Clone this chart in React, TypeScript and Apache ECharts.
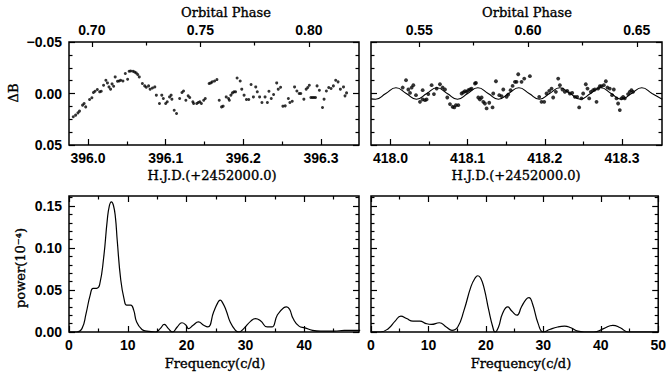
import React, { useEffect, useRef } from 'react';
import * as echarts from 'echarts';

// ---------- data ----------
// Top-left light curve: [HJD-2452000, ΔB]
const lightCurveA: number[][] = [
  [395.981,0.0226],[395.984,0.021],[395.987,0.0188],[395.989,0.0171],[395.993,0.0113],[395.995,0.0097],[395.997,0.013],[396.002,0.0058],[396.005,0.0042],[396.007,-0.001],
  [396.009,-0.0022],[396.012,-0.0039],[396.015,-0.0016],[396.017,-0.0022],[396.020,-0.008],[396.023,-0.0129],[396.025,-0.0103],[396.027,-0.0064],[396.029,-0.0042],[396.031,-0.0093],
  [396.033,-0.0071],[396.035,-0.0161],[396.038,-0.0119],[396.040,-0.0122],[396.042,-0.0129],[396.045,-0.0122],[396.048,-0.0194],[396.051,-0.0138],[396.053,-0.0216],[396.055,-0.0219],
  [396.058,-0.0216],[396.060,-0.0209],[396.062,-0.02],[396.064,-0.0184],[396.066,-0.0161],[396.070,-0.0097],[396.073,-0.0074],[396.075,-0.0061],[396.078,-0.0074],[396.080,-0.0042],
  [396.083,-0.0054],[396.086,-0.0064],[396.088,0.0016],[396.092,0.0097],[396.095,0.0016],[396.097,0.0048],[396.100,0.0097],[396.102,0.0081],[396.105,0.0033],[396.107,0.0016],
  [396.108,0.0055],[396.111,0.0162],[396.114,0.0194],[396.118,0.0048],[396.121,-0.001],[396.123,-0.0025],[396.126,0.0065],[396.129,0.0023],[396.131,0.0039],[396.135,0.0081],
  [396.136,0.0097],[396.140,0.0097],[396.142,0.0087],[396.144,0.0081],[396.146,0.0097],[396.149,0.0065],[396.151,0.0048],[396.156,-0.0097],[396.158,-0.0103],[396.160,-0.0113],
  [396.163,-0.0122],[396.166,-0.0135],[396.169,0.0065],[396.172,0.013],[396.174,0.0123],[396.178,0.0033],[396.181,0.0048],[396.182,0.0065],[396.184,0.0016],[396.186,-0.0006],
  [396.188,-0.0016],[396.190,-0.0016],[396.192,-0.0151],[396.196,-0.0122],[396.198,-0.0042],[396.201,0.0016],[396.204,0.0058],[396.207,0.0058],[396.210,-0.0087],[396.213,0.0033],
  [396.216,-0.0064],[396.218,-0.0016],[396.221,0.0033],[396.224,0.0087],[396.228,0.0033],[396.231,0.0087],[396.233,-0.0022],[396.236,0.0048],[396.239,0.001],[396.243,-0.0103],
  [396.245,-0.0042],[396.248,-0.0061],[396.251,0.0123],[396.254,0.012],[396.258,0.0048],[396.260,0.0087],[396.263,0.0075],[396.266,-0.0064],[396.269,-0.0025],[396.272,0.0],
  [396.274,0.0],[396.278,0.0055],[396.281,-0.0042],[396.283,-0.0058],[396.285,-0.008],[396.287,0.0039],[396.289,0.0039],[396.291,0.0039],[396.293,0.0039],[396.295,-0.0074],
  [396.298,-0.0032],[396.302,0.0136],[396.304,0.0055],[396.307,-0.0025],[396.310,-0.0058],[396.313,-0.0048],[396.316,-0.0074],[396.319,-0.0129],[396.322,-0.0113],[396.325,-0.0042],
  [396.329,-0.0064],[396.331,0.0023],[396.333,-0.0006],
];

// Top-right light curve: [HJD-2452000, ΔB]
const lightCurveB: number[][] = [
  [418.0158,-0.0058],[418.0201,-0.0129],[418.0231,-0.0039],[418.0253,-0.0006],[418.0274,-0.0058],[418.0296,-0.0081],[418.0330,0.0016],[418.0382,0.0081],[418.0417,0.0058],[418.0447,0.0065],
  [418.0468,0.0058],[418.0417,-0.0032],[418.0490,0.0006],[418.0533,-0.0081],[418.0563,0.0006],[418.0598,-0.0048],[418.0641,-0.009],[418.0676,-0.0058],[418.0706,-0.0039],[418.0736,0.0039],
  [418.0771,0.0103],[418.0805,0.0129],[418.0827,0.0135],[418.0848,0.0113],[418.0879,0.0113],[418.0922,0],[418.0943,-0.001],[418.0965,-0.0023],[418.0987,-0.0016],[418.1008,-0.0032],
  [418.1030,-0.0039],[418.1051,-0.0048],[418.1095,-0.0097],[418.1108,-0.0103],[418.1138,0.0039],[418.1159,0.0058],[418.1181,0.0039],[418.1203,0.0081],[418.1224,0.0097],[418.1246,0.0145],
  [418.1280,0.009],[418.1323,0.0135],[418.1332,0],[418.1367,-0.0119],[418.1410,0.0016],[418.1440,0.0026],[418.1462,-0.0039],[418.1505,0.0032],[418.1526,0.001],[418.1557,-0.0032],
  [418.1583,-0.0074],[418.1613,-0.0113],[418.1634,-0.0113],[418.1656,-0.0187],[418.1699,-0.0113],[418.1734,-0.0145],[418.1807,-0.0168],[418.1928,0.0032],[418.1958,0.0081],[418.1993,0.0081],
  [418.2023,0],[418.2058,-0.0026],[418.2088,-0.0048],[418.2109,0.0039],[418.2144,-0.0016],[418.2174,-0.0145],[418.2196,-0.0081],[418.2230,-0.0039],[418.2260,-0.0016],[418.2291,-0.0026],
  [418.2325,0],[418.2356,-0.0006],[418.2390,0.0032],[418.2420,0.0032],[418.2446,0.0135],[418.2476,0.0048],[418.2498,0],[418.2532,-0.009],[418.2554,-0.0048],[418.2576,0.0048],
  [418.2597,-0.0016],[418.2627,-0.0032],[418.2649,-0.0039],[418.2671,0.0081],[418.2692,-0.0048],[418.2714,-0.0071],[418.2735,-0.0071],[418.2766,-0.0081],[418.2792,-0.0119],[418.2813,-0.0058],
  [418.2843,-0.0048],[418.2873,0.0016],[418.2895,-0.0039],[418.2930,0.0048],[418.2951,0.0097],[418.2973,0.0161],[418.2994,0.0048],[418.3016,0.0032],[418.3037,0.0048],[418.3080,0.0006],
  [418.3102,-0.0016],[418.3124,-0.0032],[418.3145,-0.0016],
];

// Fitted curve (extrema and crossings)
const fitCurveB: number[][] = [
  [417.9747,0.0052],[417.9806,0.0056],[417.9939,0],[418.0071,-0.0056],[418.0204,0],[418.0337,0.0056],[418.0470,0],[418.0602,-0.0056],
  [418.0735,0],[418.0868,0.0056],[418.1001,0],[418.1133,-0.0056],[418.1266,0],[418.1399,0.0056],[418.1532,0],[418.1664,-0.0056],
  [418.1797,0],[418.1930,0.0056],[418.2063,0],[418.2195,-0.0056],[418.2328,0],[418.2461,0.0056],[418.2594,0],[418.2727,-0.0056],
  [418.2860,0],[418.2992,0.0056],[418.3125,0],[418.3258,-0.0056],[418.3391,0],[418.3523,0.0056],
];

// Power spectra: [frequency (c/d), power (1e-4)]
const powerA: number[][] = [
  [0,0],[1.3,0],[2.2,0.004],[2.9,0.022],[3.6,0.044],[4.1,0.052],[4.7,0.052],[5.2,0.056],[5.9,0.089],[6.5,0.133],
  [6.85,0.150],[7.2,0.155],[7.55,0.151],[7.9,0.136],[8.2,0.109],[8.8,0.062],[9.4,0.038],[9.8,0.032],[10.5,0.032],[11.0,0.026],[11.5,0.012],[12.4,0.003],
  [13.2,0.001],[14.7,0],[15.5,0.004],[16.2,0.009],[16.9,0.004],[17.6,0],[18.4,0.006],[19.2,0.011],[19.9,0.008],[20.3,0.004],
  [21.1,0.008],[22.0,0.012],[22.9,0.008],[23.6,0.006],[24.6,0.024],[25.3,0.035],[25.7,0.038],[26.1,0.035],[26.7,0.026],[27.4,0.012],[28.3,0.002],[28.9,0],
  [29.7,0.004],[30.9,0.013],[31.7,0.016],[32.6,0.013],[33.7,0.006],[34.5,0.006],[35.4,0.02],[36.5,0.029],[37.0,0.030],[37.5,0.027],[38.1,0.016],
  [39.1,0.007],[40.1,0.005],[41.4,0.002],[42.8,0.001],[45.1,0.001],[46.8,0.002],[49.5,0.002],
];
const powerB: number[][] = [
  [0,0],[1.6,0],[3.0,0.004],[4.2,0.013],[5.2,0.019],[6.2,0.016],[7.3,0.013],[8.5,0.013],[9.6,0.010],[10.5,0.009],
  [11.9,0.011],[13.1,0.006],[14.1,0.002],[15.1,0.006],[16.2,0.026],[17.4,0.054],[18.1,0.064],[18.6,0.067],[19.1,0.064],[19.7,0.052],[20.5,0.026],
  [21.2,0.006],[21.6,0],[22.2,0.006],[22.9,0.022],[23.8,0.030],[24.5,0.025],[25.4,0.020],[26.2,0.030],[27.0,0.039],[27.5,0.041],[28.1,0.034],
  [29.1,0.010],[30.0,0],[31.1,0.003],[32.5,0.006],[33.7,0.007],[34.8,0.005],[36.0,0.001],[37.1,0],[38.8,0],[40.5,0.004],
  [42.1,0.008],[43.4,0.005],[44.8,0],[50,0],
];

// Tick values
const hjdLabelsA = [396.0, 396.1, 396.2, 396.3];
const hjdMinorA = [396.05, 396.15, 396.25];
const hjdLabelsB = [418.0, 418.1, 418.2, 418.3];
const hjdMinorB = [418.05, 418.15, 418.25];
const phaseLabelsA = [0.70, 0.75, 0.80];
const phaseMinorA = [0.725, 0.775];
const phaseLabelsB = [0.55, 0.60, 0.65];
const phaseMinorB = [0.575, 0.625];
const dBLabels = [-0.05, 0, 0.05];
const dBMinor = [-0.0375, -0.025, -0.0125, 0.0125, 0.025, 0.0375];
const freqLabelsA = [0, 10, 20, 30, 40];
const freqLabelsB = [0, 10, 20, 30, 40, 50];
const freqMinor = [5, 15, 25, 35, 45];
const powLabels = [0, 0.05, 0.1, 0.15];
const powMinor = [0.01, 0.02, 0.03, 0.04, 0.06, 0.07, 0.08, 0.09, 0.11, 0.12, 0.13, 0.14, 0.16];

const NUM_FONT = '"Liberation Sans", Arial, sans-serif';
const TITLE_FONT = '"DejaVu Serif", serif';

const grids = [
  { left: 69, top: 42, width: 290, height: 103 },
  { left: 371, top: 42, width: 291, height: 103 },
  { left: 69, top: 196, width: 290, height: 136 },
  { left: 371, top: 196, width: 291, height: 136 },
];

function makeAxis(gridIndex: number, position: string, min: number, max: number, ticks: number[], len: number,
  labels: number[] | null, fmt: ((v: number) => string) | null, margin: number, inverse = false) {
  return {
    type: 'value', gridIndex, position, min, max, inverse,
    axisLine: { show: false, onZero: false },
    splitLine: { show: false },
    axisTick: { show: true, inside: true, length: len, customValues: ticks, lineStyle: { color: '#000', width: 1.2 } },
    axisLabel: labels
      ? { show: true, customValues: labels, formatter: fmt, color: '#000', fontFamily: NUM_FONT, fontSize: 14, fontWeight: 'bold', margin }
      : { show: false },
  };
}

const fmt1 = (v: number) => v.toFixed(1);
const fmt2 = (v: number) => (v < 0 ? '\u2212' + Math.abs(v).toFixed(2) : v.toFixed(2));
const fmt0 = (v: number) => String(Math.round(v));

export default function App() {
  const ref = useRef<HTMLDivElement>(null);
  useEffect(() => {
    if (!ref.current) return;
    const chart = echarts.init(ref.current, null, { renderer: 'svg' });
    const xAxes: any[] = [];
    const yAxes: any[] = [];
    const addX = (a: any) => { xAxes.push(a); return xAxes.length - 1; };
    const addY = (a: any) => { yAxes.push(a); return yAxes.length - 1; };

    // panel 0: top-left
    const x0 = addX(makeAxis(0, 'bottom', 395.9755, 396.349, hjdLabelsA, 6, hjdLabelsA, fmt1, 6));
    addX(makeAxis(0, 'bottom', 395.9755, 396.349, hjdMinorA, 3.5, null, null, 6));
    addX(makeAxis(0, 'top', 0.6895, 0.8231, phaseLabelsA, 5, phaseLabelsA, fmt2, 5));
    addX(makeAxis(0, 'top', 0.6895, 0.8231, phaseMinorA, 3.5, null, null, 5));
    const y0 = addY(makeAxis(0, 'left', -0.05, 0.05, dBLabels, 6, dBLabels, fmt2, 7, true));
    addY(makeAxis(0, 'left', -0.05, 0.05, dBMinor, 3.5, null, null, 7, true));
    addY(makeAxis(0, 'right', -0.05, 0.05, dBLabels, 6, null, null, 7, true));
    addY(makeAxis(0, 'right', -0.05, 0.05, dBMinor, 3.5, null, null, 7, true));

    // panel 1: top-right
    const x1 = addX(makeAxis(1, 'bottom', 417.9747, 418.352, hjdLabelsB, 6, hjdLabelsB, fmt1, 6));
    addX(makeAxis(1, 'bottom', 417.9747, 418.352, hjdMinorB, 3.5, null, null, 6));
    addX(makeAxis(1, 'top', 0.5278, 0.6616, phaseLabelsB, 5, phaseLabelsB, fmt2, 5));
    addX(makeAxis(1, 'top', 0.5278, 0.6616, phaseMinorB, 3.5, null, null, 5));
    const y1 = addY(makeAxis(1, 'left', -0.05, 0.05, dBLabels, 6, null, null, 7, true));
    addY(makeAxis(1, 'left', -0.05, 0.05, dBMinor, 3.5, null, null, 7, true));
    addY(makeAxis(1, 'right', -0.05, 0.05, dBLabels, 6, null, null, 7, true));
    addY(makeAxis(1, 'right', -0.05, 0.05, dBMinor, 3.5, null, null, 7, true));

    // panel 2: bottom-left
    const x2 = addX(makeAxis(2, 'bottom', 0, 49.3, freqLabelsA, 6, freqLabelsA, fmt0, 6));
    addX(makeAxis(2, 'bottom', 0, 49.3, freqMinor, 3.5, null, null, 6));
    addX(makeAxis(2, 'top', 0, 49.3, freqLabelsA, 6, null, null, 6));
    addX(makeAxis(2, 'top', 0, 49.3, freqMinor, 3.5, null, null, 6));
    const y2 = addY(makeAxis(2, 'left', 0, 0.162, powLabels, 6, powLabels, fmt2, 7));
    addY(makeAxis(2, 'left', 0, 0.162, powMinor, 3.5, null, null, 7));
    addY(makeAxis(2, 'right', 0, 0.162, powLabels, 6, null, null, 7));
    addY(makeAxis(2, 'right', 0, 0.162, powMinor, 3.5, null, null, 7));

    // panel 3: bottom-right
    const x3 = addX(makeAxis(3, 'bottom', 0, 50, freqLabelsB, 6, freqLabelsB, fmt0, 6));
    addX(makeAxis(3, 'bottom', 0, 50, freqMinor, 3.5, null, null, 6));
    addX(makeAxis(3, 'top', 0, 50, freqLabelsB, 6, null, null, 6));
    addX(makeAxis(3, 'top', 0, 50, freqMinor, 3.5, null, null, 6));
    const y3 = addY(makeAxis(3, 'left', 0, 0.162, powLabels, 6, null, null, 7));
    addY(makeAxis(3, 'left', 0, 0.162, powMinor, 3.5, null, null, 7));
    addY(makeAxis(3, 'right', 0, 0.162, powLabels, 6, null, null, 7));
    addY(makeAxis(3, 'right', 0, 0.162, powMinor, 3.5, null, null, 7));

    const title = (text: string, x: number, y: number, rot = 0) => ({
      type: 'text', x, y, rotation: rot, silent: true,
      style: {
        text, fill: '#000', font: `13px ${TITLE_FONT}`,
        align: 'center', verticalAlign: 'middle', textAlign: 'center', textVerticalAlign: 'middle',
        stroke: '#000', lineWidth: 0.35,
      },
    });

    chart.setOption({
      animation: false,
      backgroundColor: '#fff',
      grid: grids.map((g) => ({ ...g, show: true, borderColor: '#000', borderWidth: 1.5, backgroundColor: 'transparent' })),
      xAxis: xAxes,
      yAxis: yAxes,
      series: [
        { type: 'scatter', xAxisIndex: x0, yAxisIndex: y0, data: lightCurveA, symbolSize: 3, itemStyle: { color: '#000' }, silent: true },
        { type: 'scatter', xAxisIndex: x1, yAxisIndex: y1, data: lightCurveB, symbolSize: 3.8, itemStyle: { color: '#000' }, silent: true },
        { type: 'line', xAxisIndex: x1, yAxisIndex: y1, data: fitCurveB, showSymbol: false, smooth: 0.5, lineStyle: { color: '#000', width: 1.1 }, silent: true },
        { type: 'line', xAxisIndex: x2, yAxisIndex: y2, data: powerA, showSymbol: false, smooth: 0.5, lineStyle: { color: '#000', width: 1.2 }, silent: true },
        { type: 'line', xAxisIndex: x3, yAxisIndex: y3, data: powerB, showSymbol: false, smooth: 0.5, lineStyle: { color: '#000', width: 1.2 }, silent: true },
      ],
      graphic: [
        title('Orbital Phase', 226, 12),
        title('Orbital Phase', 527, 12),
        title('\u0394B', 13, 93, Math.PI / 2),
        title('H.J.D.(+2452000.0)', 212, 175),
        title('H.J.D.(+2452000.0)', 516, 175),
        title('power(10\u207B\u2074)', 20, 268, Math.PI / 2),
        title('Frequency(c/d)', 215, 363),
        title('Frequency(c/d)', 521, 363),
      ],
    });
    return () => chart.dispose();
  }, []);
  return <div ref={ref} style={{ position: 'absolute', left: 0, top: 0, width: 669, height: 379, background: '#fff' }} />;
}
